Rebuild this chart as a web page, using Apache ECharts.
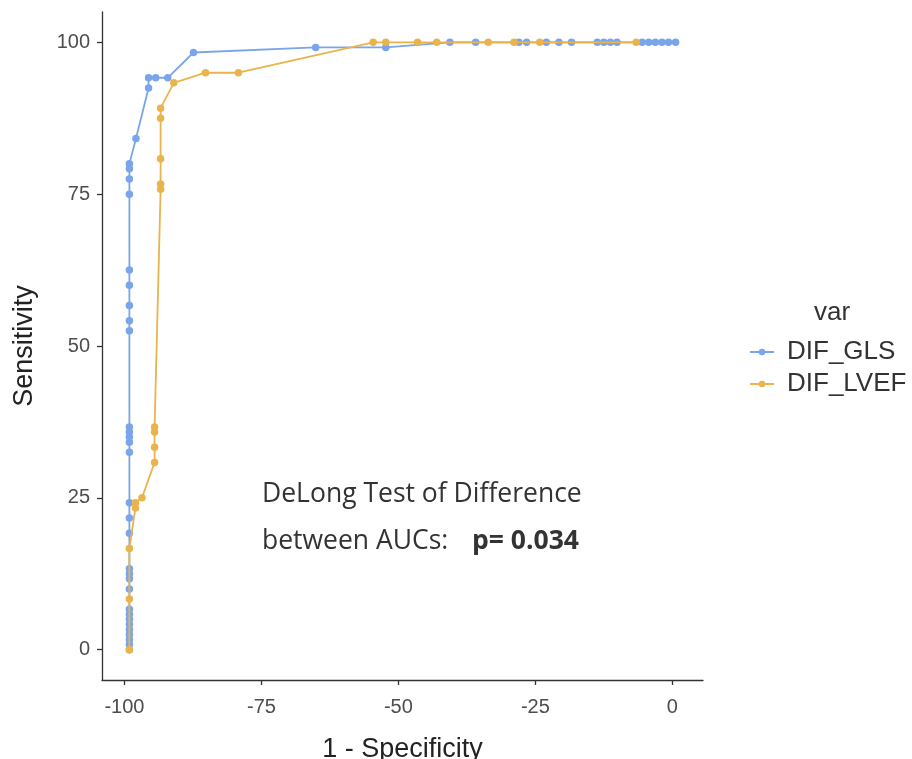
<!DOCTYPE html>
<html>
<head>
<meta charset="utf-8">
<script src="https://cdn.jsdelivr.net/npm/echarts@6/dist/echarts.min.js"></script>
<style>html,body{margin:0;padding:0;background:#fff;}#c{width:912px;height:759px;}</style>
</head>
<body>
<div id="c"></div>
<script>
// Data
const glsX = [-99.1,-99.1,-99.1,-99.1,-99.1,-99.1,-99.1,-99.1,-99.1,-99.1,-99.1,-99.1,-99.1,-99.1,-99.1,-99.1,-99.1,-99.1,-99.1,-99.1,-99.1,-99.1,-99.1,-99.1,-99.1,-99.1,-99.1,-99.1,-99.1,-99.1,
  -97.9,-95.6,-95.6,-94.3,-92.1,-87.4,-65.1,-52.3,-40.6,-35.9,-28.0,-26.6,-23.0,-20.7,-18.4,-13.7,-12.5,-11.3,-10.1,-5.5,-4.3,-3.1,-1.9,-0.7,0.6];
const glsY = [0,0.83,1.67,2.5,3.33,4.17,5,5.83,6.67,10,11.67,12.5,13.33,19.17,21.67,24.17,32.5,34.17,35,35.83,36.67,52.5,54.17,56.67,60,62.5,75,77.5,79.17,80,
  84.17,92.5,94.17,94.17,94.17,98.33,99.17,99.17,100,100,100,100,100,100,100,100,100,100,100,100,100,100,100,100,100];
const lvefX = [-99.1,-99.1,-99.1,-98.0,-98.0,-96.8,-94.5,-94.5,-94.5,-94.5,-93.4,-93.4,-93.4,-93.4,-93.4,-91.0,-85.2,-79.2,-54.6,-52.3,-46.5,-43.0,-33.6,-28.9,-24.2,-6.6];
const lvefY = [0,8.33,16.67,23.33,24.17,25,30.83,33.33,35.83,36.67,75.83,76.67,80.83,87.5,89.17,93.33,95,95,100,100,100,100,100,100,100,100];
const xTicks = [-100,-75,-50,-25,0];
const yTicks = [0,25,50,75,100];
const seriesNames = ['DIF_GLS','DIF_LVEF'];

const blue = '#7aa5ea', orange = '#e9b44c';
const zip = (xs, ys) => xs.map((x, i) => [x, ys[i]]);

const chart = echarts.init(document.getElementById('c'), null, {renderer: 'canvas'});
chart.setOption({
  animation: false,
  backgroundColor: '#fff',
  grid: {left: 102, right: 209, top: 12, bottom: 79, containLabel: false, outerBoundsMode: 'none'},
  title: {text: 'var', left: 809, top: 295, textStyle: {fontFamily: 'Liberation Sans', fontSize: 26, fontWeight: 'normal', color: '#333'}},
  legend: {
    orient: 'vertical', left: 744, top: 333, itemGap: 4, itemWidth: 24, itemHeight: 8,
    textStyle: {fontFamily: 'Liberation Sans', fontSize: 26, lineHeight: 28, color: '#333', padding: [0, 0, 0, 8]},
    data: seriesNames
  },
  xAxis: {
    type: 'value', min: -104.1, max: 5.6,
    name: '1 - Specificity', nameLocation: 'middle', nameGap: 56,
    nameTextStyle: {fontFamily: 'Liberation Sans', fontSize: 27, color: '#222'},
    axisLine: {show: true, onZero: false, lineStyle: {color: '#333', width: 1.3}},
    axisTick: {show: true, length: 5, customValues: xTicks, lineStyle: {color: '#333', width: 1.3}},
    axisLabel: {customValues: xTicks, margin: 17, fontFamily: 'Liberation Sans', fontSize: 20, color: '#4d4d4d'},
    splitLine: {show: false}
  },
  yAxis: {
    type: 'value', min: -5, max: 105,
    name: 'Sensitivity', nameLocation: 'middle', nameGap: 64,
    nameTextStyle: {fontFamily: 'Liberation Sans', fontSize: 27, color: '#222'},
    axisLine: {show: true, onZero: false, lineStyle: {color: '#333', width: 1.3}},
    axisTick: {show: true, length: 5, customValues: yTicks, lineStyle: {color: '#333', width: 1.3}},
    axisLabel: {customValues: yTicks, margin: 12, fontFamily: 'Liberation Sans', fontSize: 20, color: '#4d4d4d'},
    splitLine: {show: false}
  },
  series: [
    {name: seriesNames[0], type: 'line', data: zip(glsX, glsY), symbol: 'circle', symbolSize: 7.5,
     itemStyle: {color: blue}, lineStyle: {color: blue, width: 1.8}, z: 2},
    {name: seriesNames[1], type: 'line', data: zip(lvefX, lvefY), symbol: 'circle', symbolSize: 7.5,
     itemStyle: {color: orange}, lineStyle: {color: orange, width: 1.8}, z: 3}
  ],
  graphic: [
    {type: 'text', left: 262, top: 481, style: {text: 'DeLong Test of Difference', fontFamily: 'Open Sans', fontSize: 26.5, fill: '#333'}},
    {type: 'text', left: 262, top: 528, style: {text: 'between AUCs:', fontFamily: 'Open Sans', fontSize: 26.5, fill: '#333'}},
    {type: 'text', left: 472, top: 528, style: {text: 'p= 0.034', fontFamily: 'Open Sans', fontSize: 26.5, fontWeight: 'bold', fill: '#333'}}
  ]
});
</script>
</body>
</html>
